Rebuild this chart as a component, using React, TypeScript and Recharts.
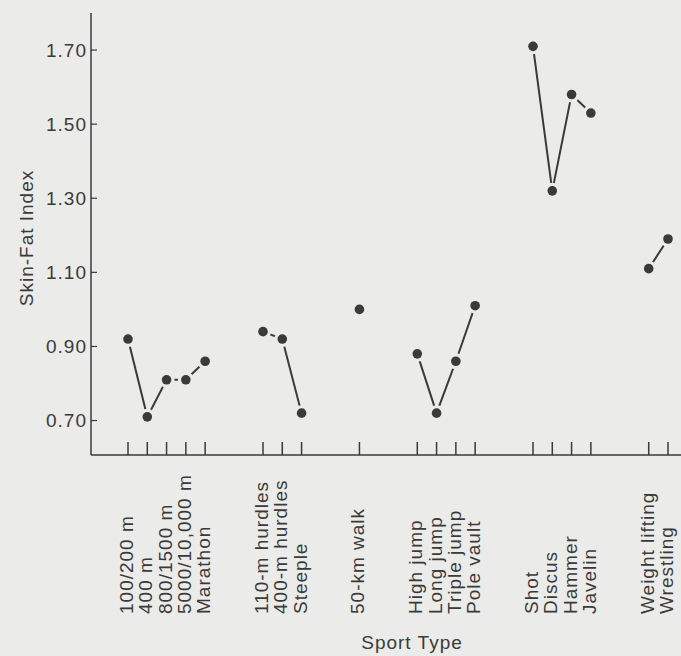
import { Line, LineChart, XAxis, YAxis } from "recharts";

// events grouped the way the figure groups them
const runningEvents = ["100/200 m", "400 m", "800/1500 m", "5000/10,000 m", "Marathon"];
const runningIndex = [0.92, 0.71, 0.81, 0.81, 0.86];

const hurdleEvents = ["110-m hurdles", "400-m hurdles", "Steeple"];
const hurdleIndex = [0.94, 0.92, 0.72];

const walkEvents = ["50-km walk"];
const walkIndex = [1.0];

const jumpEvents = ["High jump", "Long jump", "Triple jump", "Pole vault"];
const jumpIndex = [0.88, 0.72, 0.86, 1.01];

const throwEvents = ["Shot", "Discus", "Hammer", "Javelin"];
const throwIndex = [1.71, 1.32, 1.58, 1.53];

const strengthEvents = ["Weight lifting", "Wrestling"];
const strengthIndex = [1.11, 1.19];

const yTicks = [0.7, 0.9, 1.1, 1.3, 1.5, 1.7];

const groups = [
  [runningEvents, runningIndex],
  [hurdleEvents, hurdleIndex],
  [walkEvents, walkIndex],
  [jumpEvents, jumpIndex],
  [throwEvents, throwIndex],
  [strengthEvents, strengthIndex],
] as [string[], number[]][];

// two empty slots between groups so the line breaks there
const rows: { sport: string; skinFat: number | null }[] = [];
groups.forEach(([names, vals], g) => {
  names.forEach((n, i) => rows.push({ sport: n, skinFat: vals[i] }));
  if (g < groups.length - 1) {
    rows.push({ sport: `gap${g}a`, skinFat: null });
    rows.push({ sport: `gap${g}b`, skinFat: null });
  }
});

const BG = "#ebebe9";
const INK = "#3a3a3a";
const FONT = '"Liberation Sans", Arial, Helvetica, sans-serif';

const SportTick = (props: any) => {
  const { x, y, payload } = props;
  if (!payload || String(payload.value).startsWith("gap")) return <g />;
  const bx = x + 5;
  const by = 614;
  return (
    <g>
      <line x1={x} y1={y} x2={x} y2={y - 13} stroke={INK} strokeWidth={1.5} />
      <text
        x={bx}
        y={by}
        transform={`rotate(-90 ${bx} ${by})`}
        textAnchor="start"
        fill={INK}
        fontSize={19}
        letterSpacing={1}
        fontFamily={FONT}
      >
        {payload.value}
      </text>
    </g>
  );
};

const IndexTick = (props: any) => {
  const { x, y, payload } = props;
  return (
    <g>
      <line x1={x} y1={y} x2={x + 6} y2={y} stroke={INK} strokeWidth={1.2} />
      <text
        x={x - 4}
        y={y}
        dy="0.35em"
        textAnchor="end"
        fill={INK}
        fontSize={19}
        letterSpacing={1}
        fontFamily={FONT}
      >
        {Number(payload.value).toFixed(2)}
      </text>
    </g>
  );
};

const HaloDot = (props: any) => {
  const { cx, cy, index, value } = props;
  if (cx == null || cy == null || value == null) return <g key={`d${index}`} />;
  return (
    <g key={`d${index}`}>
      <circle cx={cx} cy={cy} r={8} fill={BG} />
      <circle cx={cx} cy={cy} r={4.8} fill={INK} />
    </g>
  );
};

export default function App() {
  return (
    <div style={{ position: "absolute", left: 0, top: 0, width: 681, height: 656, background: BG }}>
      <LineChart width={681} height={656} data={rows} margin={{ top: 13, right: 0, bottom: 0, left: 0 }}>
        <XAxis
          dataKey="sport"
          padding={{ left: 37, right: 13 }}
          interval={0}
          height={201}
          tickSize={0}
          tickMargin={0}
          tickLine={false}
          tick={<SportTick />}
          axisLine={{ stroke: INK, strokeWidth: 1.5 }}
        />
        <YAxis
          type="number"
          domain={[0.607, 1.8]}
          allowDataOverflow
          ticks={yTicks}
          interval={0}
          width={91}
          tickSize={0}
          tickMargin={0}
          tickLine={false}
          tick={<IndexTick />}
          axisLine={{ stroke: INK, strokeWidth: 1.5 }}
        />
        <Line
          type="linear"
          dataKey="skinFat"
          stroke={INK}
          strokeWidth={2}
          connectNulls={false}
          dot={<HaloDot />}
          activeDot={false}
          isAnimationActive={false}
        />
      </LineChart>
      <div
        style={{
          position: "absolute",
          left: 27,
          top: 238,
          transform: "translate(-50%, -50%) rotate(-90deg)",
          whiteSpace: "nowrap",
          fontFamily: FONT,
          fontSize: 19,
          letterSpacing: 1,
          color: INK,
        }}
      >
        Skin-Fat Index
      </div>
      <div
        style={{
          position: "absolute",
          left: 412,
          top: 643,
          transform: "translate(-50%, -50%)",
          whiteSpace: "nowrap",
          fontFamily: FONT,
          fontSize: 19,
          letterSpacing: 1,
          color: INK,
        }}
      >
        Sport Type
      </div>
    </div>
  );
}
